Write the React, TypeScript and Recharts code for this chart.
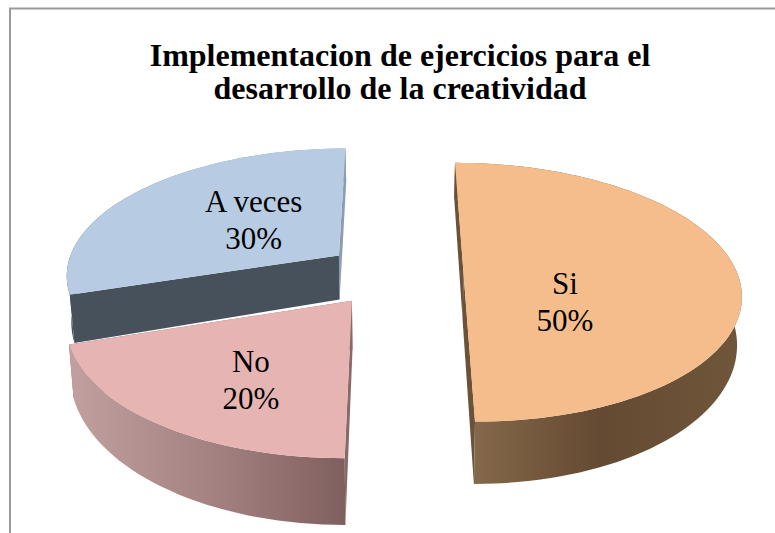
import React from 'react'
import { Pie, PieChart } from 'recharts'

// slices run clockwise from the left edge of "A veces", so "No" gets painted last
const categories = ['A veces', 'Si', 'No']
const percents = [30, 50, 20]
const titleLines = ['Implementacion de ejercicios para el', 'desarrollo de la creatividad']

const topColors = ['#b7cce3', '#f6bd8c', '#e6b5b3']
const startCutColors = ['#47515c', '#6b5238', '#8a6a69']
const endCutColors = ['#8c9db3', '#6b5238', '#8a6a69']
const wallStops = [
  ['#47515c', '#8c9db3', '#8c9db3'],
  ['#8a6d4e', '#644a32', '#70563a'],
  ['#c2a09f', '#a58382', '#80605f'],
]
// where each label sits on its slice, in disc units from the slice tip
const labelOffsets = [
  [-0.339, 0.3],
  [0.351, -0.213],
  [-0.318, -0.542],
]

const tableData = categories.map((name, i) => ({ name, value: percents[i], idx: i }))

// fake 3D: project the flat disc onto a tilted plane
const CX = 394
const CY = 274
const RADIUS = 274
const VANISH_Y = -627
const TILT = 0.1408
const EXPLODE = 0.254
const DEPTH = 46
const SHRINK = 0.014
const RAD = Math.PI / 180

const project = (u: number, v: number, down: boolean) => {
  const w = 1 + TILT * v
  let x = CX + (RADIUS * u) / w
  let y = VANISH_Y + (CY - VANISH_Y) / w
  if (down) {
    x = CX + (x - CX) * (1 - SHRINK)
    y += DEPTH / (w * w)
  }
  return [x, y]
}

const pathOf = (pts: number[][]) =>
  pts.map((p, i) => (i ? 'L' : 'M') + p[0].toFixed(1) + ' ' + p[1].toFixed(1)).join(' ') + ' Z'

const SliceShape = (props: any) => {
  const { startAngle, endAngle, midAngle, payload } = props
  const idx = payload?.idx ?? props.idx
  const from = 90 - startAngle
  const to = 90 - endAngle
  const mid = midAngle !== undefined ? 90 - midAngle : (from + to) / 2
  const ox = EXPLODE * Math.sin(mid * RAD)
  const oy = EXPLODE * Math.cos(mid * RAD)

  const arc = (down: boolean) => {
    const pts = []
    for (let a = from; a <= to + 0.01; a += 2) {
      pts.push(project(ox + Math.sin(a * RAD), oy + Math.cos(a * RAD), down))
    }
    return pts
  }
  const tip = project(ox, oy, false)
  const tipDown = project(ox, oy, true)
  const topArc = arc(false)
  const downArc = arc(true)
  const last = topArc.length - 1
  const xs = topArc.map((p) => p[0])
  const gradId = 'wall' + idx

  return (
    <g>
      <defs>
        <linearGradient id={gradId} gradientUnits="userSpaceOnUse" x1={Math.min(...xs)} x2={Math.max(...xs)} y1="0" y2="0">
          <stop offset="0" stopColor={wallStops[idx][0]} />
          <stop offset="0.5" stopColor={wallStops[idx][1]} />
          <stop offset="1" stopColor={wallStops[idx][2]} />
        </linearGradient>
      </defs>
      <path d={pathOf([tip, topArc[last], downArc[last], tipDown])} fill={endCutColors[idx]} />
      <path d={pathOf([...topArc, ...[...downArc].reverse()])} fill={`url(#${gradId})`} />
      <path d={pathOf([tip, topArc[0], downArc[0], tipDown])} fill={startCutColors[idx]} />
      <path d={pathOf([tip, ...topArc])} fill={topColors[idx]} />
    </g>
  )
}

const SliceLabel = (props: any) => {
  const { midAngle, payload, percent } = props
  const idx = payload?.idx ?? props.idx
  const mid = 90 - midAngle
  const u = EXPLODE * Math.sin(mid * RAD) + labelOffsets[idx][0]
  const v = EXPLODE * Math.cos(mid * RAD) + labelOffsets[idx][1]
  const [x, y] = project(u, v, false)
  return (
    <text x={x} textAnchor="middle" fontFamily="'Liberation Serif', serif" fontSize={31} fill="#000">
      <tspan x={x} y={y - 8}>{payload?.name ?? props.name}</tspan>
      <tspan x={x} y={y + 29}>{Math.round(percent * 100)}%</tspan>
    </text>
  )
}

const App = () => {
  return (
    <div style={{ position: 'absolute', left: 0, top: 0, width: 775, height: 533, background: '#fff' }}>
      <PieChart width={775} height={533} margin={{ top: 0, right: 0, bottom: 0, left: 0 }}>
        <rect x={10} y={8.5} width={780} height={540} fill="#fff" stroke="#999" strokeWidth={2} />
        <text textAnchor="middle" fontFamily="'Liberation Serif', serif" fontWeight="bold" fontSize={32} fill="#000">
          <tspan x={400} y={66}>{titleLines[0]}</tspan>
          <tspan x={400} y={99}>{titleLines[1]}</tspan>
        </text>
        <Pie
          data={tableData}
          dataKey="value"
          nameKey="name"
          cx={CX}
          cy={CY}
          innerRadius={0}
          outerRadius={RADIUS}
          startAngle={-162}
          endAngle={-522}
          stroke="none"
          shape={SliceShape}
          label={SliceLabel}
          labelLine={false}
          isAnimationActive={false}
        />
      </PieChart>
    </div>
  )
}

export default App
